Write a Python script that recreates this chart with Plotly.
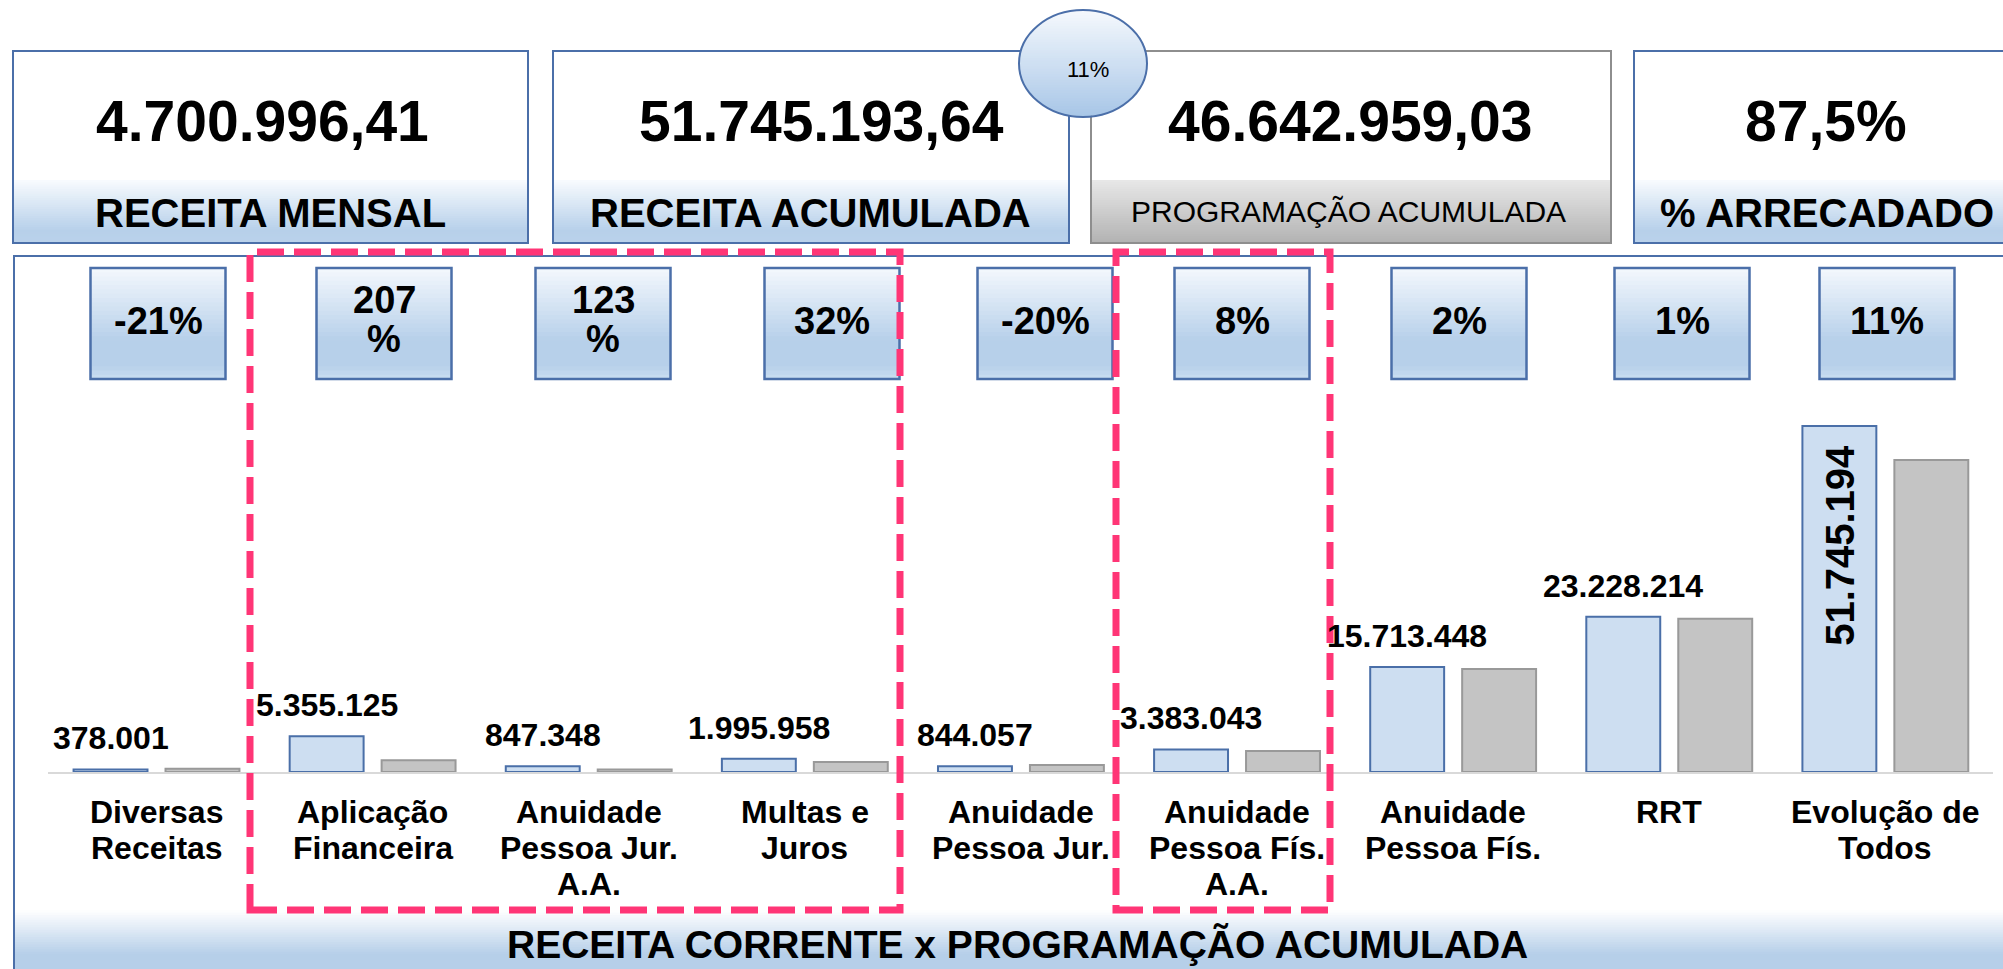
import plotly.graph_objects as go

W, H = 2003, 969

# ---------------- data ----------------
categories = ["Diversas Receitas", "Aplicação Financeira", "Anuidade Pessoa Jur. A.A.",
              "Multas e Juros", "Anuidade Pessoa Jur.", "Anuidade Pessoa Fís. A.A.",
              "Anuidade Pessoa Fís.", "RRT", "Evolução de Todos"]
tick_labels = ["Diversas<br>Receitas", "Aplicação<br>Financeira", "Anuidade<br>Pessoa Jur.<br>A.A.",
               "Multas e<br>Juros", "Anuidade<br>Pessoa Jur.", "Anuidade<br>Pessoa Fís.<br>A.A.",
               "Anuidade<br>Pessoa Fís.", "RRT", "Evolução de<br>Todos"]
receita_corrente = [378001, 5355125, 847348, 1995958, 844057, 3383043, 15713448, 23228214, 51745194]
programacao_acumulada = [478000, 1744000, 380000, 1512000, 1055000, 3132000, 15405000, 22935000, 46642959]
variacao_pct = [-21, 207, 123, 32, -20, 8, 2, 1, 11]

kpi_values = ["4.700.996,41", "51.745.193,64", "46.642.959,03", "87,5%"]
kpi_labels = ["RECEITA MENSAL", "RECEITA ACUMULADA", "PROGRAMAÇÃO ACUMULADA", "% ARRECADADO"]
kpi_growth = "11%"
panel_title = "RECEITA CORRENTE x PROGRAMAÇÃO ACUMULADA"

# ---------------- layout constants (pixels) ----------------
FONT = "Liberation Sans, Arial, Helvetica, sans-serif"
BLUE_BORDER = "#4b6fa9"
GRAY_BORDER = "#8e8e8e"
card_x = [(13, 528), (553, 1069), (1091, 1611), (1634, 2030)]
card_value_cx = [262, 821, 1350, 1826]
card_label_cx = [270, 810, 1348, 1827]
card_top, card_band, card_bottom = 51, 180, 243
pct_box_cx = [158, 384, 603, 832, 1045, 1242, 1459, 1682, 1887]
pct_box_w, pct_box_top, pct_box_bottom = 135, 268, 379
dashed_boxes = [(250, 252, 900, 910), (1116, 252, 1330, 910)]


def px(x):
    return x / W


def py(y):
    return 1 - y / H


def br_num(v):
    return f"{v:,.0f}".replace(",", ".")


def hex2rgb(h):
    h = h.lstrip("#")
    return tuple(int(h[i:i + 2], 16) for i in (0, 2, 4))


def interp(stops, t):
    for (t0, c0), (t1, c1) in zip(stops, stops[1:]):
        if t <= t1:
            f = 0 if t1 == t0 else (t - t0) / (t1 - t0)
            a, b = hex2rgb(c0), hex2rgb(c1)
            return "rgb(%d,%d,%d)" % tuple(round(a[i] + (b[i] - a[i]) * f) for i in range(3))
    return "rgb(%d,%d,%d)" % hex2rgb(stops[-1][1])


shapes = []


def rect(x0, y0, x1, y1, fill=None, line_color=None, lw=0, layer="below", dash=None):
    d = dict(type="rect", xref="paper", yref="paper",
             x0=px(x0), x1=px(x1), y0=py(y1), y1=py(y0), layer=layer,
             line=dict(width=lw, color=line_color or "rgba(0,0,0,0)"))
    if dash:
        d["line"]["dash"] = dash
    d["fillcolor"] = fill if fill else "rgba(0,0,0,0)"
    shapes.append(d)


def vgrad(x0, y0, x1, y1, stops, n):
    h = (y1 - y0) / n
    for i in range(n):
        ya = y0 + i * h
        yb = min(y1, ya + h + 0.8)
        rect(x0, ya, x1, yb, fill=interp(stops, (i + 0.5) / n))


blue_band = [(0, "#f8fbfe"), (0.8, "#b7d0ea"), (1, "#bad2eb")]
gray_band = [(0, "#e8e8e8"), (1, "#b2b2b2")]
pct_grad = [(0, "#f4f8fd"), (0.65, "#b7d0ea"), (0.88, "#b7d0ea"), (1, "#cadef1")]

# ---- KPI cards ----
for i, (x0, x1) in enumerate(card_x):
    rect(x0, card_top, x1, card_bottom, fill="white")
    vgrad(x0, card_band, x1, card_bottom, gray_band if i == 2 else blue_band, 28)
    rect(x0, card_top, x1, card_bottom, line_color=GRAY_BORDER if i == 2 else BLUE_BORDER, lw=2)

# ---- growth ellipse ----
ecx, ecy, erx, ery = 1083, 63.5, 64, 53.5
n_sl = 40
ell_grad = [(0, "#f6f9fd"), (1, "#a7c6e7")]
for i in range(n_sl):
    ya = ecy - ery + i * 2 * ery / n_sl
    yb = min(ecy + ery, ya + 2 * ery / n_sl + 0.8)
    pts = []
    for yy in (ya, yb):
        dy = (yy - ecy) / ery
        dx = erx * max(0.0, 1 - dy * dy) ** 0.5
        pts.append((ecx - dx, yy, ecx + dx))
    (l1, y1_, r1), (l2, y2_, r2) = pts
    path = "M %f,%f L %f,%f L %f,%f L %f,%f Z" % (px(l1), py(y1_), px(r1), py(y1_),
                                                  px(r2), py(y2_), px(l2), py(y2_))
    shapes.append(dict(type="path", xref="paper", yref="paper", path=path,
                       fillcolor=interp(ell_grad, (i + 0.5) / n_sl), line=dict(width=0), layer="below"))
shapes.append(dict(type="circle", xref="paper", yref="paper", x0=px(ecx - erx), x1=px(ecx + erx),
                   y0=py(ecy + ery), y1=py(ecy - ery), line=dict(color=BLUE_BORDER, width=2),
                   fillcolor="rgba(0,0,0,0)", layer="below"))

# ---- main panel ----
vgrad(15, 910, 2003, 969, [(0, "#ffffff"), (0.75, "#b6cfe9"), (1, "#b6cfe9")], 24)
rect(14, 256, 2040, 1000, line_color=BLUE_BORDER, lw=2)

# ---- percentage boxes ----
for cx in pct_box_cx:
    x0, x1 = cx - pct_box_w / 2, cx + pct_box_w / 2
    vgrad(x0, pct_box_top, x1, pct_box_bottom, pct_grad, 26)
    rect(x0, pct_box_top, x1, pct_box_bottom, line_color=BLUE_BORDER, lw=2.5)

# ---- dashed highlight boxes ----
for (x0, y0, x1, y1) in dashed_boxes:
    rect(x0, y0, x1, y1, line_color="#ff3576", lw=7, layer="above", dash="27px,10px")

# ---------------- annotations ----------------
ann = []


def text(x, y, s, size, bold=True, color="black"):
    ann.append(dict(xref="paper", yref="paper", x=px(x), y=py(y), text=s, showarrow=False,
                    xanchor="center", yanchor="middle",
                    font=dict(family=FONT, size=size, color=color, weight="bold" if bold else "normal")))


for i in range(4):
    text(card_value_cx[i], 121, kpi_values[i], 57)
    if i == 2:
        text(card_label_cx[i], 211, kpi_labels[i], 30, bold=False)
    else:
        text(card_label_cx[i], 213, kpi_labels[i], 40)
text(1088, 69, kpi_growth, 22, bold=False)
text(1017, 944, panel_title, 39)

for cx, v in zip(pct_box_cx, variacao_pct):
    if abs(v) >= 100:
        text(cx, 300, f"{v}", 38)
        text(cx, 339, "%", 38)
    else:
        text(cx, 321, f"{v}%", 38)

# category labels (one annotation per line, anchored to the category axis)
for c, lab in zip(categories, tick_labels):
    for k, line in enumerate(lab.split("<br>")):
        ann.append(dict(xref="x", yref="y", x=c, y=0, text=line, showarrow=False,
                        xanchor="center", yanchor="middle", yshift=-40 - 36 * k,
                        font=dict(family=FONT, size=32, color="black", weight="bold")))

# value labels above/inside the "receita corrente" bars
for i, (c, v) in enumerate(zip(categories, receita_corrente)):
    if i == len(categories) - 1:
        ann.append(dict(xref="x", yref="y", x=c, y=v, text=br_num(v), showarrow=False,
                        textangle=-90, xanchor="center", yanchor="top", xshift=-46, yshift=-17,
                        font=dict(family=FONT, size=40, color="black", weight="bold")))
    else:
        ann.append(dict(xref="x", yref="y", x=c, y=v, text=br_num(v), showarrow=False,
                        xanchor="center", yanchor="bottom", xshift=-46, yshift=11,
                        font=dict(family=FONT, size=32, color="black", weight="bold")))

# ---------------- traces ----------------
fig = go.Figure()
fig.add_trace(go.Bar(x=categories, y=receita_corrente, name="Receita Corrente", offsetgroup="r",
                     marker=dict(color="#cddef1", line=dict(color="#4a6fa8", width=2))))
fig.add_trace(go.Bar(x=categories, y=programacao_acumulada, name="Programação Acumulada", offsetgroup="p",
                     marker=dict(color="#c4c4c4", line=dict(color="#999999", width=2))))

fig.update_layout(
    width=W, height=H, margin=dict(l=0, r=0, t=0, b=0, pad=0),
    paper_bgcolor="white", plot_bgcolor="rgba(0,0,0,0)",
    showlegend=False, barmode="group", bargap=0.149, bargroupgap=0.196,
    shapes=shapes, annotations=ann,
    font=dict(family=FONT, color="black"),
    xaxis=dict(domain=[0.02419, 0.99521], tickmode="array", tickvals=categories,
               showticklabels=False,
               showline=True, linecolor="#d9d9d9", linewidth=2, ticks="", showgrid=False,
               zeroline=False, automargin=False, fixedrange=True),
    yaxis=dict(domain=[0.20330, 0.58973], range=[0, 56e6], visible=False, showgrid=False,
               zeroline=False, automargin=False, fixedrange=True),
)

fig.write_html("out.html", config={"displayModeBar": False},
               post_script="document.body.style.margin='0';document.body.style.overflow='hidden';")
